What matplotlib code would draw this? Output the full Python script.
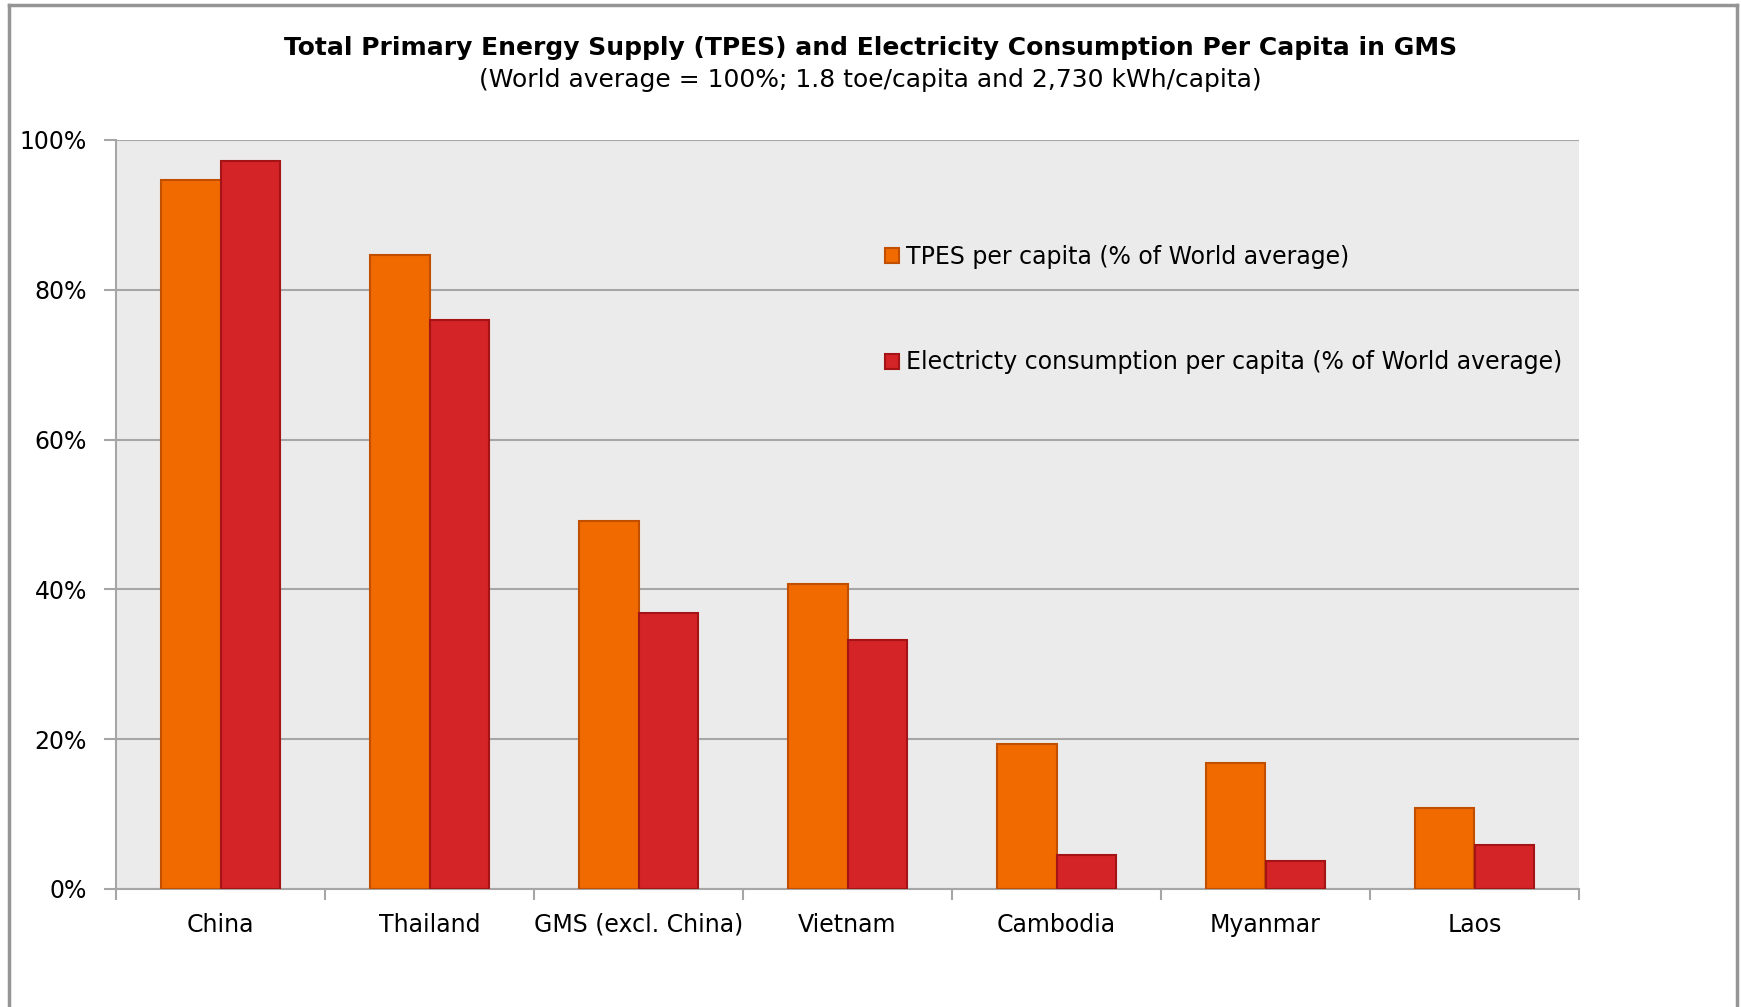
import numpy as np
import matplotlib.pyplot as plt
from matplotlib.lines import Line2D

# Data (% of world average)
countries = ["China", "Thailand", "GMS (excl. China)", "Vietnam", "Cambodia", "Myanmar", "Laos"]
tpes = [94.7, 84.6, 49.1, 40.7, 19.4, 16.8, 10.8]
elec = [97.2, 76.0, 36.9, 33.2, 4.6, 3.7, 5.9]
yticks = [0, 20, 40, 60, 80, 100]

W, H = 1741, 1007
fig = plt.figure(figsize=(W / 100, H / 100), dpi=100)
plt.rcParams['font.family'] = ['DejaVu Sans']

# outer chart frame (gray border)
frame_col = "#959595"
fig.add_artist(Line2D([9 / W, 1737 / W], [1 - 5 / H, 1 - 5 / H], color=frame_col, lw=2.5))
fig.add_artist(Line2D([9 / W, 9 / W], [0, 1 - 5 / H], color=frame_col, lw=2.5))
fig.add_artist(Line2D([1737 / W, 1737 / W], [0, 1 - 5 / H], color=frame_col, lw=2.5))

# plot area
left, right, top, bottom = 116, 1579, 140, 889
ax = fig.add_axes([left / W, 1 - bottom / H, (right - left) / W, (bottom - top) / H])
ax.set_facecolor("#ebebeb")

x = np.arange(len(countries))
bw = 0.287
ax.bar(x - bw / 2, tpes, bw, color="#f06a00", edgecolor="#c24f00", linewidth=1.5,
       label="TPES per capita (% of World average)", zorder=3)
ax.bar(x + bw / 2, elec, bw, color="#d42428", edgecolor="#a51414", linewidth=1.5,
       label="Electricty consumption per capita (% of World average)", zorder=3)

ax.set_xlim(-0.5, len(countries) - 0.5)
ax.set_ylim(0, 100)
ax.set_yticks(yticks)
ax.set_yticklabels([f"{v}%" for v in yticks], fontsize=17)
ax.yaxis.grid(True, color="#a6a6a6", lw=1.5, zorder=0)

ax.set_xticks(x)
ax.set_xticklabels(countries, fontsize=17)
ax.set_xticks(np.arange(-0.5, len(countries)), minor=True)
ax.tick_params(axis="x", which="major", length=0, pad=17)
ax.tick_params(axis="x", which="minor", length=8, color="#a6a6a6", width=1.5)
ax.tick_params(axis="y", length=9, color="#a6a6a6", width=1.5, pad=12)

for s in ["top", "right"]:
    ax.spines[s].set_visible(False)
for s in ["left", "bottom"]:
    ax.spines[s].set_color("#a6a6a6")
    ax.spines[s].set_linewidth(1.5)

leg = ax.legend(loc="upper left", bbox_to_anchor=(0.519, 0.873), frameon=False,
                fontsize=17, handlelength=0.6, handleheight=0.6, handletextpad=0.3,
                labelspacing=3.47, borderaxespad=0)

fig.text(0.5, 1 - 48 / H, "Total Primary Energy Supply (TPES) and Electricity Consumption Per Capita in GMS",
         ha="center", va="center", fontsize=18, fontweight="bold")
fig.text(0.5, 1 - 80 / H, "(World average = 100%; 1.8 toe/capita and 2,730 kWh/capita)",
         ha="center", va="center", fontsize=18)

fig.savefig("out.png", dpi=100)
